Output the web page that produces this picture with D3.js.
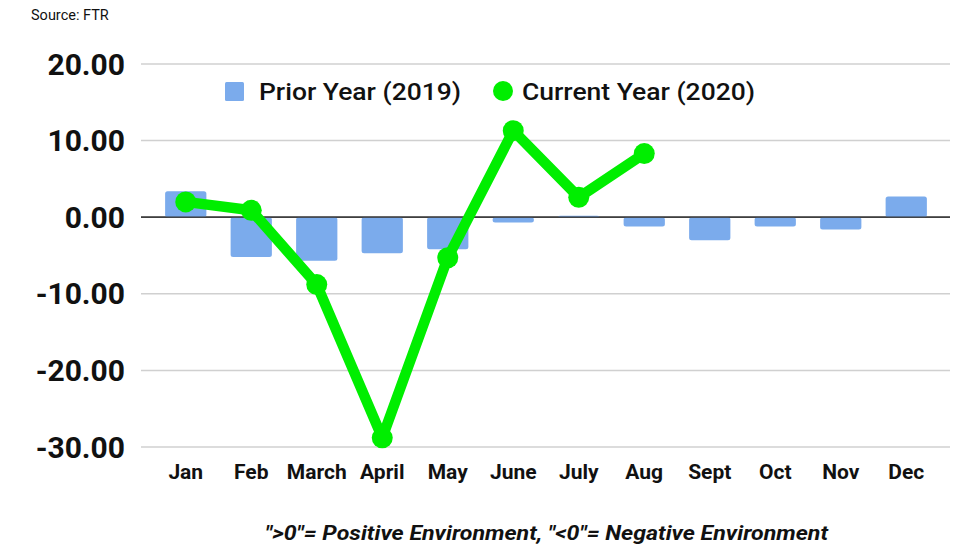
<!DOCTYPE html>
<html>
<head>
<meta charset="utf-8">
<script src="https://cdn.jsdelivr.net/npm/d3@7"></script>
<style>
  body { margin: 0; background: #fff; }
  text { font-family: Roboto, "Noto Sans", sans-serif; }
</style>
</head>
<body>
<div id="viz"></div>
<script>
var months = ["Jan", "Feb", "March", "April", "May", "June", "July", "Aug", "Sept", "Oct", "Nov", "Dec"];
var prior2019 = [3.4, -5.2, -5.7, -4.7, -4.2, -0.7, 0.2, -1.2, -3.0, -1.2, -1.6, 2.7];
var current2020 = [2.0, 0.9, -8.8, -28.8, -5.3, 11.3, 2.6, 8.3];
var yTicks = [20, 10, 0, -10, -20, -30];

var W = 980, H = 552;

var svg = d3.select("#viz")
    .append("svg")
    .attr("width", W)
    .attr("height", H);

var x = d3.scaleBand()
    .domain(months)
    .range([153, 939])
    .paddingInner(0.37)
    .paddingOuter(0.185);

var y = d3.scaleLinear()
    .domain([-30, 20])
    .range([447, 64]);

var fmt = d => d3.format(".2f")(d).replace("\u2212", "-");

// gridlines
svg.append("g")
    .selectAll("line")
    .data(yTicks)
    .join("line")
    .attr("x1", 141)
    .attr("x2", 950)
    .attr("y1", d => y(d))
    .attr("y2", d => y(d))
    .attr("stroke", d => d === 0 ? "#333" : "#d0d0d0")
    .attr("stroke-width", d => d === 0 ? 1.3 : 1.5);

// y labels
svg.append("g")
    .selectAll("text")
    .data(yTicks)
    .join("text")
    .attr("x", 125)
    .attr("y", d => y(d) + 10.5)
    .attr("text-anchor", "end")
    .attr("font-size", 30)
    .attr("font-weight", 700)
    .attr("fill", "#111")
    .text(fmt);

// bars
svg.append("g")
    .selectAll("rect")
    .data(prior2019)
    .join("rect")
    .attr("x", (d, i) => x(months[i]))
    .attr("width", x.bandwidth())
    .attr("y", d => y(Math.max(0, d)))
    .attr("height", d => Math.abs(y(d) - y(0)))
    .attr("rx", 2.5)
    .attr("fill", "#7babec");

// zero line on top of bars
svg.append("line")
    .attr("x1", 141).attr("x2", 950)
    .attr("y1", y(0)).attr("y2", y(0))
    .attr("stroke", "#333")
    .attr("stroke-width", 1.3);

// x labels
svg.append("g")
    .selectAll("text")
    .data(months)
    .join("text")
    .attr("x", d => x(d) + x.bandwidth() / 2)
    .attr("y", 479)
    .attr("text-anchor", "middle")
    .attr("font-size", 21)
    .attr("font-weight", 700)
    .attr("fill", "#111")
    .text(d => d);

// line
var line = d3.line()
    .x((d, i) => x(months[i]) + x.bandwidth() / 2)
    .y(d => y(d));

svg.append("path")
    .datum(current2020)
    .attr("d", line)
    .attr("fill", "none")
    .attr("stroke", "#00ee00")
    .attr("stroke-width", 10.5)
    .attr("stroke-linejoin", "round");

svg.append("g")
    .selectAll("circle")
    .data(current2020)
    .join("circle")
    .attr("cx", (d, i) => x(months[i]) + x.bandwidth() / 2)
    .attr("cy", d => y(d))
    .attr("r", 10.5)
    .attr("fill", "#00ee00");

// legend
var legend = svg.append("g");
legend.append("rect")
    .attr("x", 225).attr("y", 82)
    .attr("width", 19).attr("height", 19)
    .attr("rx", 1.5)
    .attr("fill", "#7babec");
legend.append("text")
    .attr("x", 259).attr("y", 100)
    .attr("font-size", 24)
    .attr("font-weight", 500)
    .attr("fill", "#111")
    .attr("textLength", 202)
    .attr("lengthAdjust", "spacingAndGlyphs")
    .text("Prior Year (2019)");
legend.append("circle")
    .attr("cx", 503).attr("cy", 91)
    .attr("r", 10)
    .attr("fill", "#00ee00");
legend.append("text")
    .attr("x", 522).attr("y", 100)
    .attr("font-size", 24)
    .attr("font-weight", 500)
    .attr("fill", "#111")
    .attr("textLength", 233)
    .attr("lengthAdjust", "spacingAndGlyphs")
    .text("Current Year (2020)");

// source
svg.append("text")
    .attr("x", 31).attr("y", 20)
    .attr("font-size", 14.5)
    .attr("fill", "#111")
    .text("Source: FTR");

// footnote
svg.append("text")
    .attr("x", 265).attr("y", 540)
    .attr("font-size", 21)
    .attr("font-weight", 700)
    .attr("font-style", "italic")
    .attr("fill", "#111")
    .attr("textLength", 563)
    .attr("lengthAdjust", "spacingAndGlyphs")
    .text("\">0\"= Positive Environment, \"<0\"= Negative Environment");
</script>
</body>
</html>
